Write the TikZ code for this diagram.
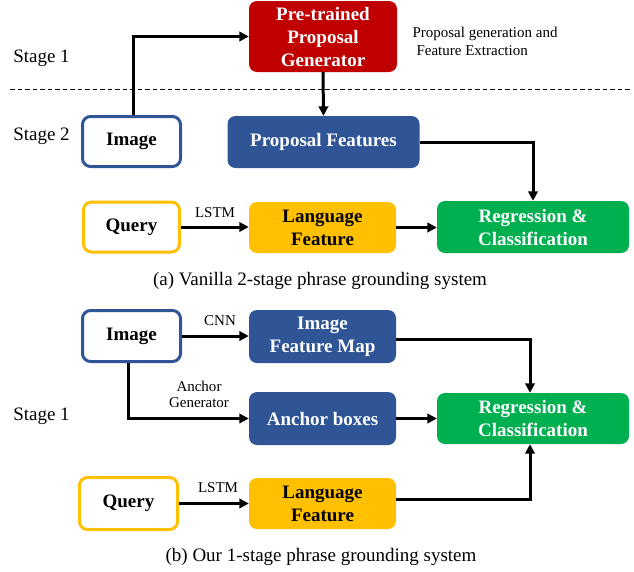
\documentclass[tikz,border=0pt]{standalone}
\usepackage{fontspec}
\setmainfont{Liberation Serif}
\usetikzlibrary{arrows.meta}
\definecolor{cred}{HTML}{C00000}
\definecolor{cblue}{HTML}{2F5597}
\definecolor{corange}{HTML}{FFC000}
\definecolor{cgreen}{HTML}{00B050}
\tikzset{
  box/.style={rectangle, rounded corners=8pt, align=center, inner sep=0pt,
    font=\fontsize{19}{23}\selectfont\bfseries},
  filledbox/.style={box, fill=#1, text=white},
  outlinebox/.style={box, draw=#1, line width=3pt, fill=white, text=black},
  arr/.style={line width=3pt, -{Triangle[length=9.5pt,width=9.5pt]}},
  small/.style={font=\fontsize{15}{17}\selectfont},
  big/.style={font=\fontsize{19}{23}\selectfont},
}
\begin{document}
\begin{tikzpicture}[x=1pt,y=-1pt]
\useasboundingbox (0,0) rectangle (634,571);
% dashed separator
\draw[line width=1pt, dash pattern=on 4.5pt off 3pt] (10,89) -- (632,89);
% stage labels
\node[big] (s1) at (41.5,58) {Stage 1};
\node[big] (s2) at (41.5,136) {Stage 2};
\node[big] (s3) at (41.5,416) {Stage 1};
% (a) boxes
\node[filledbox=cred, minimum width=148pt, minimum height=71pt] (gen) at (323,36.5) {Pre-trained\\Proposal\\Generator};
\node[outlinebox=cblue, minimum width=98pt, minimum height=50pt] (img1) at (131.5,141.5) {Image};
\node[filledbox=cblue, minimum width=192pt, minimum height=52pt] (pf) at (323.5,142) {Proposal Features};
\node[outlinebox=corange, minimum width=96pt, minimum height=50pt] (q1) at (131.5,227) {Query};
\node[filledbox=corange, text=black, minimum width=147pt, minimum height=51pt] (lf1) at (322.5,227.5) {Language\\Feature};
\node[filledbox=cgreen, minimum width=192pt, minimum height=52pt] (rc1) at (533,227) {Regression \&\\Classification};
\node[small, anchor=west] (pg1) at (409,34) {Proposal generation and};
\node[small, anchor=west] (pg2) at (413,51) {Feature Extraction};
\node[small] (lstm1) at (215,213) {LSTM};
\node[big] (capa) at (320,281) {(a) Vanilla 2-stage phrase grounding system};
% (a) connectors
\draw[arr] ([xshift=1.5pt]img1.north) |- (gen.west);
\draw[arr] (gen.south) -- (pf.north);
\draw[arr] (pf.east) -| (rc1.north);
\draw[arr] (q1.east) -- (q1.east -| lf1.west);
\draw[arr] (lf1.east) -- (lf1.east -| rc1.west);
% (b) boxes
\node[outlinebox=cblue, minimum width=98pt, minimum height=51pt] (img2) at (131.5,336) {Image};
\node[filledbox=cblue, minimum width=147pt, minimum height=53pt] (ifm) at (322.5,336.5) {Image\\Feature Map};
\node[filledbox=cblue, minimum width=147pt, minimum height=53pt] (ab) at (322.5,418.5) {Anchor boxes};
\node[filledbox=cgreen, minimum width=192pt, minimum height=51pt] (rc2) at (533,418.5) {Regression \&\\Classification};
\node[outlinebox=corange, minimum width=98pt, minimum height=52pt] (q2) at (128.5,503.5) {Query};
\node[filledbox=corange, text=black, minimum width=147pt, minimum height=51pt] (lf2) at (322.5,503.5) {Language\\Feature};
\node[small] (cnn) at (220,321) {CNN};
\node[small, align=center, font=\fontsize{15}{16}\selectfont] (ag) at (199,394) {Anchor\\Generator};
\node[small] (lstm2) at (218,488) {LSTM};
\node[big] (capb) at (321,557) {(b) Our 1-stage phrase grounding system};
% (b) connectors
\draw[arr] (img2.east) -- (img2.east -| ifm.west);
\draw[arr] ([yshift=-3pt]ifm.east) -| ([xshift=-3pt]rc2.north);
\draw[arr] ([xshift=-3.5pt]img2.south) |- (ab.west);
\draw[arr] (ab.east) -- (ab.east -| rc2.west);
\draw[arr] (q2.east) -- (q2.east -| lf2.west);
\draw[arr] ([yshift=4pt]lf2.east) -| ([xshift=-3pt]rc2.south);
\end{tikzpicture}
\end{document}
